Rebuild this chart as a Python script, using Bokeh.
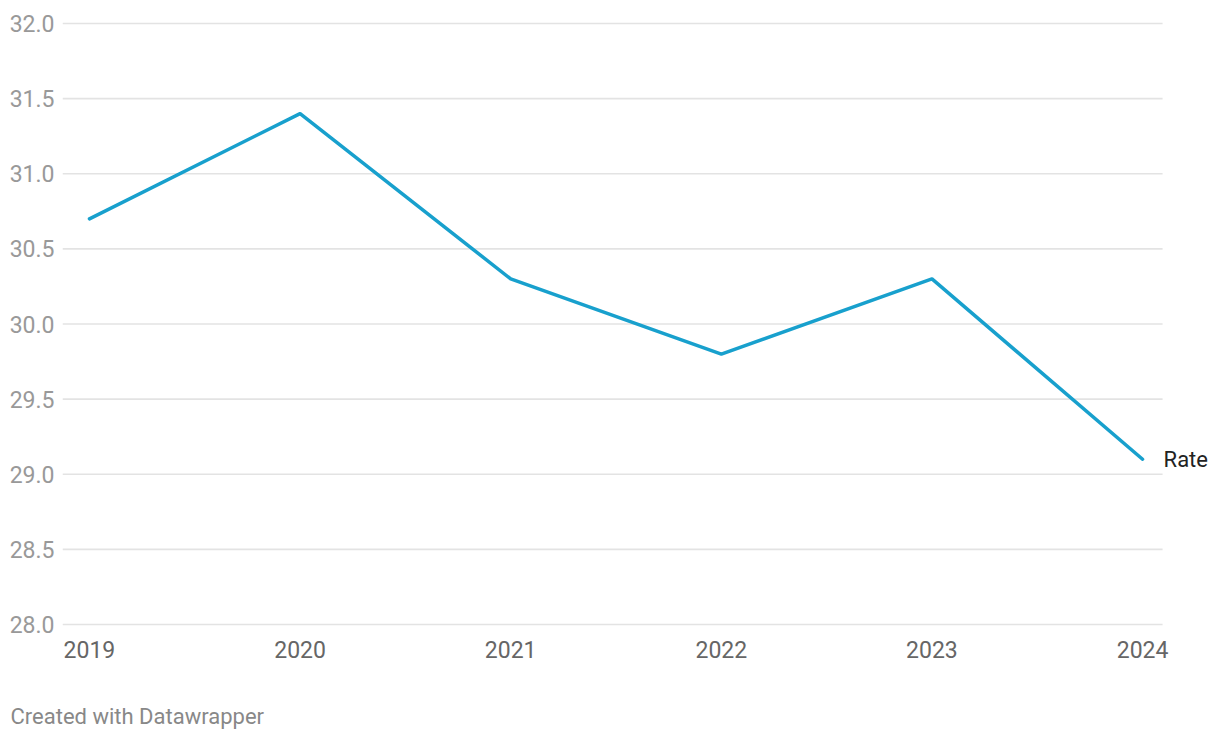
from bokeh.plotting import figure
from bokeh.models import Range1d, FixedTicker, Title, ColumnDataSource, CustomJSTickFormatter
from bokeh.core.properties import value
from bokeh.embed import file_html
from bokeh.resources import INLINE

years = [2019, 2020, 2021, 2022, 2023, 2024]
rate = [30.7, 31.4, 30.3, 29.8, 30.3, 29.1]
y_ticks = [28.0, 28.5, 29.0, 29.5, 30.0, 30.5, 31.0, 31.5, 32.0]
series_name = "Rate"
footer = "Created with Datawrapper"

FONT = "Roboto"
X0, X1 = 2019 - 0.128, 2024 + 0.351
GRID_END = 2024 + 0.095

p = figure(width=1216, height=736, output_backend="svg", toolbar_location=None,
           x_range=Range1d(X0, X1), y_range=Range1d(27.98, 32.02),
           min_border_left=62, min_border_right=0, min_border_top=20, min_border_bottom=109)
p.outline_line_color = None
p.background_fill_color = "white"
p.border_fill_color = "white"
p.xgrid.grid_line_color = None
p.ygrid.grid_line_color = None

# horizontal gridlines
p.segment(x0=[X0] * len(y_ticks), x1=[GRID_END] * len(y_ticks), y0=y_ticks, y1=y_ticks,
          line_color="#e3e3e3", line_width=1.6)

src = ColumnDataSource(dict(x=years, y=rate))
p.line("x", "y", source=src, line_color="#18a0cd", line_width=3.5, line_join="round", line_cap="round")

p.text(x=[years[-1]], y=[rate[-1]], text=[series_name], x_offset=21,
       text_baseline="middle", text_align="left",
       text_font=value(FONT), text_font_size="22px", text_color="#222222")

p.xaxis.ticker = FixedTicker(ticks=years)
p.yaxis.ticker = FixedTicker(ticks=y_ticks)
p.yaxis.formatter = CustomJSTickFormatter(code="return tick.toFixed(1);")

for ax in [p.xaxis[0], p.yaxis[0]]:
    ax.axis_line_color = None
    ax.major_tick_line_color = None
    ax.minor_tick_line_color = None
    ax.major_label_text_font = FONT
    ax.major_label_text_font_size = "23px"
p.yaxis.major_label_text_color = "#999999"
p.xaxis.major_label_text_color = "#666666"
p.yaxis.major_label_standoff = 2
p.xaxis.major_label_standoff = 7

spacer = Title(text=" ", standoff=0, text_font=FONT, text_font_size="33px")
p.add_layout(spacer, "below")
t = Title(text=footer, align="left", offset=-52, standoff=0,
          text_font=FONT, text_font_size="22px", text_font_style="normal",
          text_color="#888888")
p.add_layout(t, "below")

open("out.html", "w").write(file_html(p, INLINE))
